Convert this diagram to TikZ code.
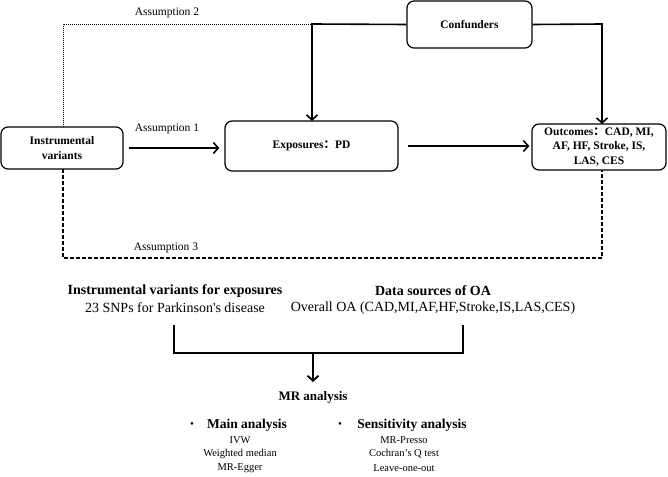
\documentclass[tikz,border=0pt]{standalone}
\usepackage{fontspec}
\setmainfont{Liberation Serif}
\newfontfamily\plainserif{Liberation Serif}
\newfontfamily\cjk{Noto Sans CJK SC}
\usetikzlibrary{arrows.meta}
\begin{document}
\begin{tikzpicture}[x=1pt,y=-1pt,
  box/.style={draw, line width=1.2pt, rounded corners=7pt, align=center, inner sep=0pt,
    font=\fontsize{11.5}{14.5}\selectfont\bfseries},
  arr/.style={line width=1.6pt, -{Straight Barb[length=5pt,width=11pt]}},
  dashline/.style={line width=1.2pt, dash pattern=on 4pt off 2pt},
  dotline/.style={line width=0.6pt, dash pattern=on 1pt off 1pt},
  lbl/.style={inner sep=0pt, font=\fontsize{11.5}{13}\selectfont},
  head/.style={inner sep=0pt, font=\fontsize{14}{16}\selectfont\bfseries},
  sub/.style={inner sep=0pt, font=\fontsize{14}{16}\selectfont},
  item/.style={inner sep=0pt, font=\fontsize{10.5}{14}\selectfont, align=center}
]
\useasboundingbox (0,0) rectangle (668,476);

% boxes
\node[box, minimum width=122pt, minimum height=42pt] (iv) at (62,148) {Instrumental\\variants};
\node[box, minimum width=173pt, minimum height=50pt] (ex) at (311.5,146) {Exposures{\cjk ：}PD};
\node[box, minimum width=125pt, minimum height=47pt] (cf) at (469.5,24.5) {Confunders};
\node[box, minimum width=134pt, minimum height=46pt] (oc) at (599,147) {Outcomes{\cjk ：}CAD, MI,\\AF, HF, Stroke, IS,\\LAS, CES};

% coordinates
\coordinate (ivtop) at (63,127);
\coordinate (ivbot) at (63,169);
\coordinate (a2) at (63,24);
\coordinate (cfl) at (312,24);
\coordinate (cfr) at (602,24);
\coordinate (exin) at (312,121);
\coordinate (ocin) at (602,124);
\coordinate (ocbot) at (602,170);
\coordinate (d1) at (63,258);
\coordinate (d2) at (602,258);

% assumption 2 dotted
\draw[dotline] (ivtop) -- (a2) -- (cfl);
% confounders
\draw[arr] (cf.west) -- (cfl) -- (exin);
\draw[arr] (cf.east) -- (cfr) -- (ocin);
% assumption 1
\draw[arr, shorten <=5pt, shorten >=5pt] (iv.east) -- (iv.east -| ex.west);
\draw[arr, shorten <=9pt, shorten >=2pt] (ex.east) -- (ex.east -| oc.west);
% assumption 3 dashed
\draw[dashline] (ivbot) -- (d1) -- (d2) -- (ocbot);

\node[lbl] (l2) at (167,13) {Assumption 2};
\node[lbl] (l1) at (167,129) {Assumption 1};
\node[lbl] (l3) at (166,248) {Assumption 3};

% data
\node[head] (h1) at (175,291) {Instrumental variants for exposures};
\node[sub] (s1) at (175,308) {23 SNPs for Parkinson{\plainserif '}s disease};
\node[head] (h2) at (433,291) {Data sources of OA};
\node[sub] (s2) at (433,308) {Overall OA (CAD,MI,AF,HF,Stroke,IS,LAS,CES)};

% bracket
\coordinate (b1) at (174,325);
\coordinate (b2) at (174,353);
\coordinate (b3) at (463,353);
\coordinate (b4) at (463,325);
\coordinate (bm) at (313,353);
\coordinate (bt) at (313,382);
\draw[line width=1.9pt] (b1) -- (b2) -- (b3) -- (b4);
\draw[arr, line width=1.9pt] (bm) -- (bt);

\node[inner sep=0pt, font=\fontsize{13}{15}\selectfont\bfseries] (mr) at (313,397) {MR analysis};

\node[inner sep=0pt, font=\fontsize{11}{13}\selectfont] (bu1) at (192,425) {•};
\node[inner sep=0pt, font=\fontsize{13.5}{15}\selectfont\bfseries] (ma) at (247,425) {Main analysis};
\node[item] (m1) at (240,440) {IVW};
\node[item] (m2) at (240,454) {Weighted median};
\node[item] (m3) at (240,468) {MR-Egger};

\node[inner sep=0pt, font=\fontsize{11}{13}\selectfont] (bu2) at (340,425) {•};
\node[inner sep=0pt, font=\fontsize{13.5}{15}\selectfont\bfseries] (sa) at (412,425) {Sensitivity analysis};
\node[item] (n1) at (404,440) {MR-Presso};
\node[item] (n2) at (404,454) {Cochran’s Q test};
\node[item] (n3) at (404,468) {Leave-one-out};
\end{tikzpicture}
\end{document}
